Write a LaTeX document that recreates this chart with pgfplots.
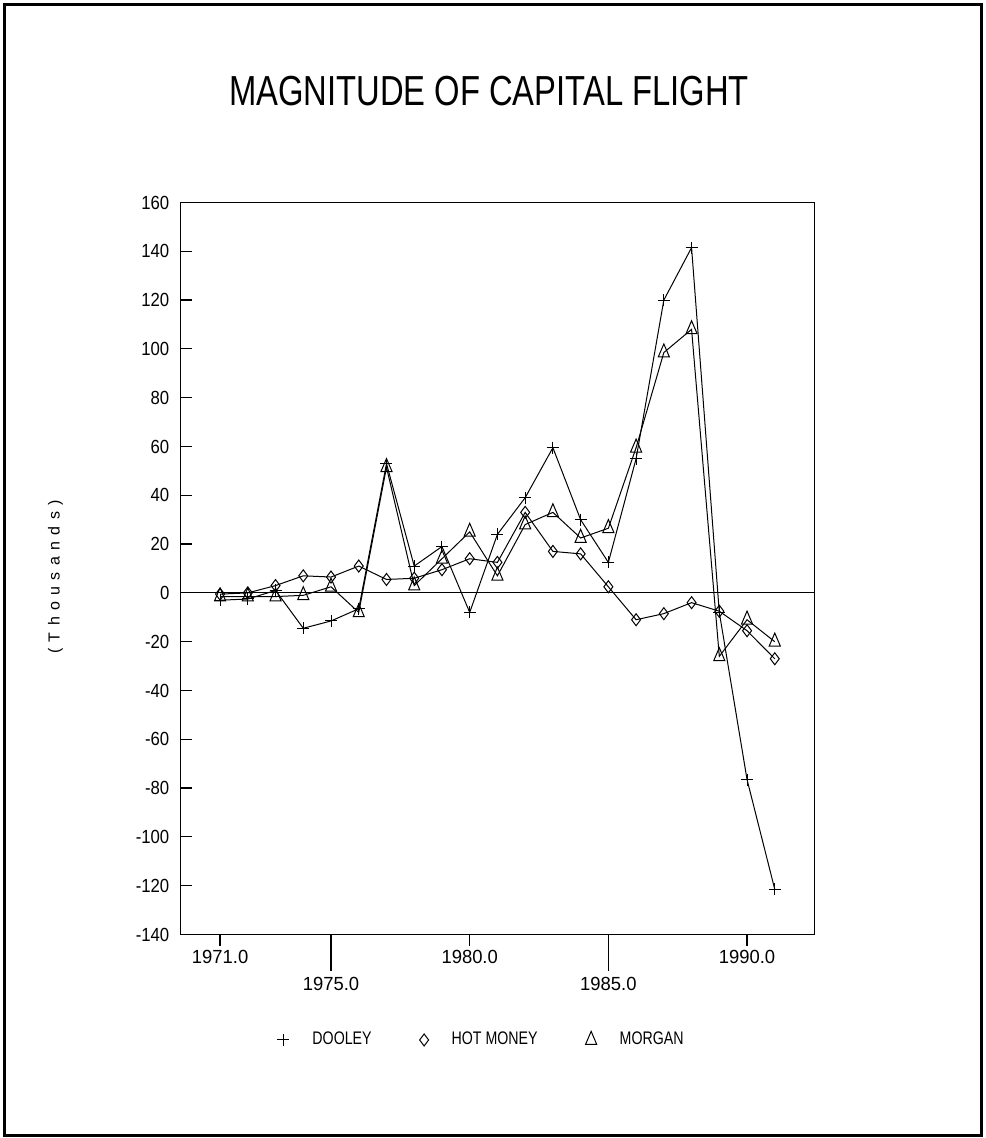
\documentclass[border=0pt]{standalone}
\usepackage{fontspec}
\setmainfont{Liberation Sans}
\newfontfamily\titlefont{Liberation Sans}[FakeStretch=0.78]
\newfontfamily\ytickfont{Liberation Sans}[FakeStretch=0.88]
\newfontfamily\xtickfont{Liberation Sans}[FakeStretch=0.97]
\newfontfamily\legfont{Liberation Sans}[FakeStretch=0.78]
\newfontfamily\labfont{Liberation Sans}[LetterSpace=40]
\usepackage{pgfplots}
\pgfplotsset{compat=1.18}
\usepackage{pgfplotstable}

\pgfplotstableread{
year dooley hot morgan
1971 -3.0 -0.5 -1.5
1972 -2.5 0.0 -1.5
1973 1.0 3.0 -1.5
1974 -14.5 7.0 -1.0
1975 -11.5 6.5 2.5
1976 -6.5 11.0 -8.0
1977 53.0 5.5 51.5
1978 11.0 6.0 3.0
1979 19.0 9.5 14.0
1980 -8.0 14.0 25.0
1981 24.0 12.5 7.0
1982 39.0 33.0 28.0
1983 59.5 17.0 33.0
1984 30.0 16.0 22.5
1985 12.5 2.5 26.5
1986 55.0 -11.0 59.5
1987 120.0 -8.5 98.5
1988 141.5 -4.0 108.0
1989 -8.0 -7.5 -26.0
1990 -76.5 -15.5 -11.0
1991 -121.5 -27.0 -20.0
}\data

\begin{document}
\begin{tikzpicture}
\path (-90.35pt,-101.75pt) rectangle (402.15pt,467.25pt);
\draw[line width=1.4pt] (-88.1pt,-100.5pt) rectangle (400.4pt,465pt);
\node[anchor=base, font=\titlefont\fontsize{21}{21}\selectfont] at (154.15pt,414.25pt) {MAGNITUDE OF CAPITAL FLIGHT};
\node[rotate=90, font=\labfont\fontsize{8}{8}\selectfont] at (-62.6pt,178.75pt) {(Thousands)};
\begin{axis}[
  scale only axis, width=317pt, height=366pt,
  at={(0pt,0pt)}, anchor=south west,
  xmin=1969.58, xmax=1992.44, ymin=-140, ymax=160,
  axis line style={line width=0.6pt},
  tick style={line width=0.6pt, black},
  tick align=outside,
  major tick length=5.5pt,
  ytick pos=left, xtick pos=bottom,
  ytick={-140,-120,-100,-80,-60,-40,-20,0,20,40,60,80,100,120,140,160},
  yticklabels={-140,-120,-100,-80,-60,-40,-20,0,20,40,60,80,100,120,140,160},
  ytick style={xshift=5.5pt},
  yticklabel style={font=\ytickfont\fontsize{9.5}{10}\selectfont, anchor=east, inner sep=0pt},
  xtick={1971,1980,1990},
  xticklabels={1971.0,1980.0,1990.0},
  xticklabel style={font=\xtickfont\fontsize{9.5}{10}\selectfont, anchor=center, inner sep=0pt, yshift=-5.75pt},
  extra x ticks={1975,1985},
  extra x tick labels={1975.0,1985.0},
  extra x tick style={major tick length=18pt, xticklabel style={yshift=-1pt}},
  legend columns=3,
  legend style={draw=none, fill=none, inner sep=0pt,
    at={(axis description cs:0.152,-0.1441)}, anchor=west,
    font=\legfont\fontsize{9.1}{10}\selectfont,
    /tikz/every odd column/.append style={column sep=9.5pt},
    /tikz/every even column/.append style={column sep=22pt}},
  legend image code/.code={\draw[#1, only marks] plot coordinates {(0pt,0pt)};},
]
\addplot[black, line width=0.5pt, no markers, forget plot] coordinates {(1969.58,0) (1992.44,0)};
\addplot[black, line width=0.5pt, mark=+, mark size=3pt] table[x=year,y=dooley]{\data};
\addplot[black, line width=0.5pt, mark=diamond, mark size=3pt] table[x=year,y=hot]{\data};
\addplot[black, line width=0.5pt, mark=triangle, mark size=3.2pt, mark options={yscale=1.35}] table[x=year,y=morgan]{\data};
\legend{DOOLEY,HOT MONEY,MORGAN}
\end{axis}
\end{tikzpicture}
\end{document}
